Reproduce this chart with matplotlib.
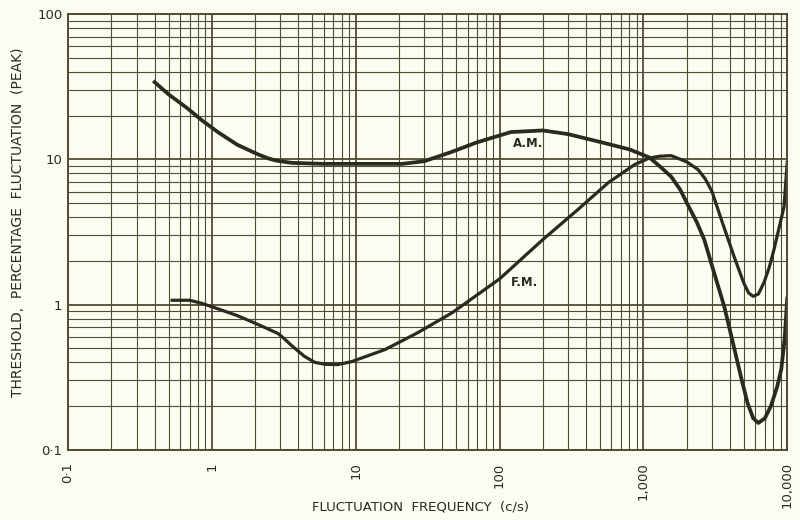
import numpy as np
import matplotlib
matplotlib.use("Agg")
import matplotlib.pyplot as plt

# values (log-log)
am_freq = [0.40, 0.5, 0.67, 0.85, 1.1, 1.5, 2.1, 2.5, 2.8, 3.6, 6, 10, 21,
           30, 46, 70, 120, 200, 300, 510, 800, 1100, 1300, 1560, 1800,
           2050, 2350, 2650, 3100, 3650, 4100, 4800, 5300, 5800, 6300,
           7000, 7700, 8500, 9100, 9600, 10000]
am_thresh = [34, 28, 22.6, 18.6, 15.4, 12.6, 10.8, 10.1, 9.8, 9.45, 9.3,
             9.3, 9.3, 9.7, 11.2, 13.1, 15.4, 15.8, 14.9, 13.1, 11.7, 10.3,
             8.95, 7.6, 6.2, 4.8, 3.7, 2.8, 1.66, 0.97, 0.6, 0.31, 0.21,
             0.165, 0.153, 0.165, 0.2, 0.27, 0.36, 0.58, 1.1]

fm_freq = [0.53, 0.7, 0.85, 1.05, 1.5, 1.9, 2.3, 2.9, 3.2, 3.6, 4.4, 5.2,
           6.1, 7.5, 9.4, 16, 27, 47, 100, 200, 350, 570, 870, 1100, 1300,
           1560, 2000, 2400, 2700, 3000, 3500, 4300, 5000, 5400, 5800,
           6300, 6900, 7500, 8100, 9500, 10000]
fm_thresh = [1.07, 1.07, 1.02, 0.95, 0.84, 0.76, 0.70, 0.63, 0.58, 0.52,
             0.44, 0.40, 0.388, 0.386, 0.405, 0.49, 0.64, 0.88, 1.5, 2.8,
             4.5, 6.9, 9.2, 10.2, 10.5, 10.6, 9.6, 8.5, 7.3, 6.0, 3.8, 2.1,
             1.4, 1.2, 1.14, 1.18, 1.42, 1.8, 2.4, 4.7, 9.5]

x_ticks = [0.1, 1, 10, 100, 1000, 10000]
x_labels = ["0\u00b71", "1", "10", "100", "1,000", "10,000"]
y_ticks = [0.1, 1, 10, 100]
y_labels = ["0\u00b71", "1", "10", "100"]

paper = "#fcfcf0"
ink = "#4d4d33"
pen = "#2a2a1e"

fig = plt.figure(figsize=(8, 5.2), dpi=100, facecolor=paper)
ax = fig.add_axes([0.085, 0.135, 0.899, 0.838])
ax.set_facecolor(paper)

ax.set_xscale("log")
ax.set_yscale("log")
ax.set_xlim(0.1, 10000)
ax.set_ylim(0.1, 100)

ax.grid(True, which="major", color=ink, lw=1.3)
ax.grid(True, which="minor", color=ink, lw=0.8)
ax.set_axisbelow(True)
for s in ax.spines.values():
    s.set_color(ink)
    s.set_linewidth(1.4)

ax.plot(am_freq, am_thresh, color=pen, lw=2.7, solid_joinstyle="round")
ax.plot(fm_freq, fm_thresh, color=pen, lw=2.3, solid_joinstyle="round")

ax.text(159, 12.9, "A.M.", fontsize=8.5, fontweight="bold", color=pen,
        ha="center", va="center")
ax.text(149, 1.42, "F.M.", fontsize=8.5, fontweight="bold", color=pen,
        ha="center", va="center")

ax.set_xticks(x_ticks)
ax.set_xticklabels(x_labels, rotation=90)
ax.set_yticks(y_ticks)
ax.set_yticklabels(y_labels)
ax.tick_params(which="both", length=0, labelsize=9.5, colors=pen, pad=9)
ax.tick_params(axis="y", pad=4)

fig.text(421 / 800, 1 - 507 / 520, "FLUCTUATION  FREQUENCY  (c/s)",
         fontsize=9.5, color=pen, ha="center", va="center")
fig.text(18 / 800, 1 - 222 / 520,
         "THRESHOLD,  PERCENTAGE  FLUCTUATION  (PEAK)", fontsize=10,
         color=pen, ha="center", va="center", rotation=90)

fig.savefig("out.png", dpi=100, facecolor=paper)
